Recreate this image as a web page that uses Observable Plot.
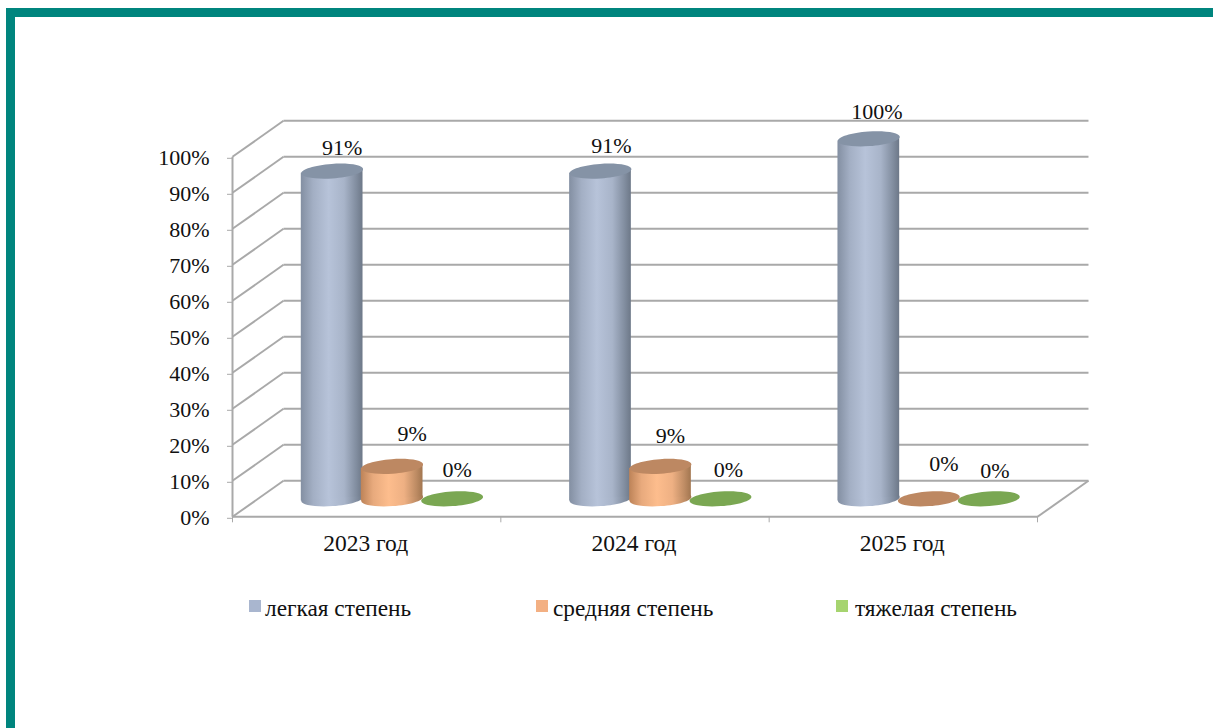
<!DOCTYPE html>
<html lang="ru">
<head>
<meta charset="utf-8">
<script src="https://cdn.jsdelivr.net/npm/d3@7"></script>
<script src="https://cdn.jsdelivr.net/npm/@observablehq/plot@0.6"></script>
<style>
  html, body { margin: 0; padding: 0; background: #fff; }
  #page { position: relative; width: 1213px; height: 728px; overflow: hidden; font-family: "Liberation Serif", serif; color: #111; }
  #frame { position: absolute; left: 6px; top: 8px; right: 0; bottom: 0; border-left: 9px solid #00857e; border-top: 9px solid #00857e; }
  #chart { position: absolute; left: 0; top: 0; }
  #chart svg { display: block; background: transparent; }
  .legend-item { position: absolute; top: 596px; height: 24px; line-height: 24px; font-size: 23.3px; white-space: nowrap; }
  .legend-swatch { position: absolute; top: 4px; left: 0; width: 12px; height: 12px; }
  .legend-text { position: absolute; top: 0; }
</style>
</head>
<body>
<div id="page">
  <div id="frame"></div>
  <div id="chart"></div>
  <div id="legend"></div>
</div>
<script>
const categories = ["2023 год", "2024 год", "2025 год"];
const seriesNames = ["легкая степень", "средняя степень", "тяжелая степень"];
const lightValues = [91, 91, 100];
const mediumValues = [9, 9, 0];
const severeValues = [0, 0, 0];
const yTicks = [0, 10, 20, 30, 40, 50, 60, 70, 80, 90, 100];
const legendColors = ["#a9b6cf", "#f3b083", "#a6d46f"];
const capColors = ["#8593a6", "#bd8862", "#7aa752"];
const seriesValues = [lightValues, mediumValues, severeValues];

// 3D look: the floor depth, in axis units
const depthX = 0.19, depthY = 10;
const seriesStep = 0.2236, halfWidth = 0.115;
const tiltDeg = 4, tiltY = 0.6;

const rows = seriesNames.flatMap((name, s) =>
  categories.map((cat, c) => ({
    s, c, name, cat, value: seriesValues[s][c],
    x: c + 0.5 + (s - 1) * seriesStep + depthX / 2,
    base: depthY / 2,
    top: seriesValues[s][c] + depthY / 2
  }))
);

// label nudges in pixels, by series and category
const labelNudge = [
  [[10, -23], [11, -25], [8, -27]],
  [[20, -32], [10, -30], [15, -35]],
  [[5, -29], [8, -29], [6, -28]]
];

// tilted ellipse used for cylinder caps and bases
const tiltedEllipse = {
  draw(ctx, size) {
    const rx = Math.sqrt(size / Math.PI), ry = rx * 0.235, a = tiltDeg * Math.PI / 180, k = 0.5523;
    const p = (x, y) => [x * Math.cos(a) + y * Math.sin(a), -x * Math.sin(a) + y * Math.cos(a)];
    ctx.moveTo(...p(rx, 0));
    ctx.bezierCurveTo(...p(rx, k * ry), ...p(k * rx, ry), ...p(0, ry));
    ctx.bezierCurveTo(...p(-k * rx, ry), ...p(-rx, k * ry), ...p(-rx, 0));
    ctx.bezierCurveTo(...p(-rx, -k * ry), ...p(-k * rx, -ry), ...p(0, -ry));
    ctx.bezierCurveTo(...p(k * rx, -ry), ...p(rx, -k * ry), ...p(rx, 0));
    ctx.closePath();
  }
};

const gradients = [
  [[0, "#838fa2"], [0.2, "#a3afc4"], [0.45, "#b7c3d9"], [0.7, "#a8b4c9"], [0.9, "#818d9f"], [1, "#6d7888"]],
  [[0, "#bd8358"], [0.2, "#e8aa7d"], [0.45, "#fdbd8d"], [0.7, "#eeb083"], [0.9, "#bd8b63"], [1, "#a27650"]],
  [[0, "#7aa752"], [1, "#7aa752"]]
];

function defs() {
  const d = d3.create("svg:defs");
  gradients.forEach((stops, i) => {
    const g = d.append("linearGradient").attr("id", "cyl" + i)
      .attr("x1", 0).attr("x2", 1).attr("y1", 0).attr("y2", 0);
    stops.forEach(([o, c]) => g.append("stop").attr("offset", o).attr("stop-color", c));
  });
  return d.node();
}

const gridColor = "#a9a9a9";
const font = { fontFamily: "Liberation Serif" };

const cylinderMarks = seriesNames.flatMap((_, s) => {
  const data = rows.filter(d => d.s === s);
  const solid = data.filter(d => d.value > 0);
  const body = solid.flatMap(d => [
    { c: d.c, x: d.x - halfWidth, y1: d.base - tiltY, y2: d.top - tiltY },
    { c: d.c, x: d.x + halfWidth, y1: d.base + tiltY, y2: d.top + tiltY }
  ]);
  return [
    Plot.dot(solid, { x: "x", y: "base", r: 31, symbol: tiltedEllipse, fill: `url(#cyl${s})` }),
    Plot.areaY(body, { x: "x", y1: "y1", y2: "y2", z: "c", fill: `url(#cyl${s})` }),
    Plot.dot(data, { x: "x", y: "top", r: 31, symbol: tiltedEllipse, fill: capColors[s] })
  ];
});

const labelMarks = rows.map(d =>
  Plot.text([d], {
    x: "x", y: "top", text: r => r.value + "%",
    dx: labelNudge[d.s][d.c][0], dy: labelNudge[d.s][d.c][1],
    fontSize: 22, fill: "#111", ...font
  })
);

const chart = Plot.plot({
  width: 1213, height: 580,
  marginLeft: 232, marginRight: 176, marginTop: 156.3, marginBottom: 63.7,
  x: { domain: [0, 3] },
  y: { domain: [0, 100] },
  style: { background: "transparent", overflow: "visible" },
  marks: [
    defs,
    Plot.link(yTicks, { x1: () => depthX, x2: () => 3 + depthX, y1: v => v + depthY, y2: v => v + depthY, stroke: gridColor, strokeWidth: 2 }),
    Plot.link(yTicks, { x1: () => 0, x2: () => depthX, y1: v => v, y2: v => v + depthY, stroke: gridColor, strokeWidth: 2 }),
    Plot.link([0], { x1: () => 3, x2: () => 3 + depthX, y1: () => 0, y2: () => depthY, stroke: gridColor, strokeWidth: 2 }),
    Plot.link([0], { x1: () => 0, x2: () => 0, y1: () => 0, y2: () => 100, stroke: gridColor, strokeWidth: 2 }),
    Plot.link([0], { x1: () => 0, x2: () => 3, y1: () => 0, y2: () => 0, stroke: gridColor, strokeWidth: 2 }),
    Plot.axisY({ ticks: yTicks, tickFormat: d => d + "%", tickSize: 5, tickPadding: 18, fontSize: 22, stroke: gridColor, fill: "#111", label: null, dy: 1.5, ...font }),
    Plot.axisX({ ticks: [0, 1, 2, 3], tickFormat: () => "", tickSize: 6, stroke: gridColor, label: null }),
    Plot.axisX({ ticks: [0.5, 1.5, 2.5], tickFormat: d => categories[Math.floor(d)], tickSize: 0, tickPadding: 18, dx: -1, fontSize: 23.5, fill: "#111", label: null, ...font }),
    ...cylinderMarks,
    ...labelMarks
  ]
});
document.getElementById("chart").appendChild(chart);

// legend sits below the plot
const legendLeft = [249, 536, 836];
const legendGap = [16, 17, 19];
const legend = document.getElementById("legend");
seriesNames.forEach((name, i) => {
  const item = document.createElement("div");
  item.className = "legend-item";
  item.style.left = legendLeft[i] + "px";
  const sw = document.createElement("span");
  sw.className = "legend-swatch";
  sw.style.background = legendColors[i];
  const tx = document.createElement("span");
  tx.className = "legend-text";
  tx.style.left = legendGap[i] + "px";
  tx.textContent = name;
  item.append(sw, tx);
  legend.appendChild(item);
});
</script>
</body>
</html>
